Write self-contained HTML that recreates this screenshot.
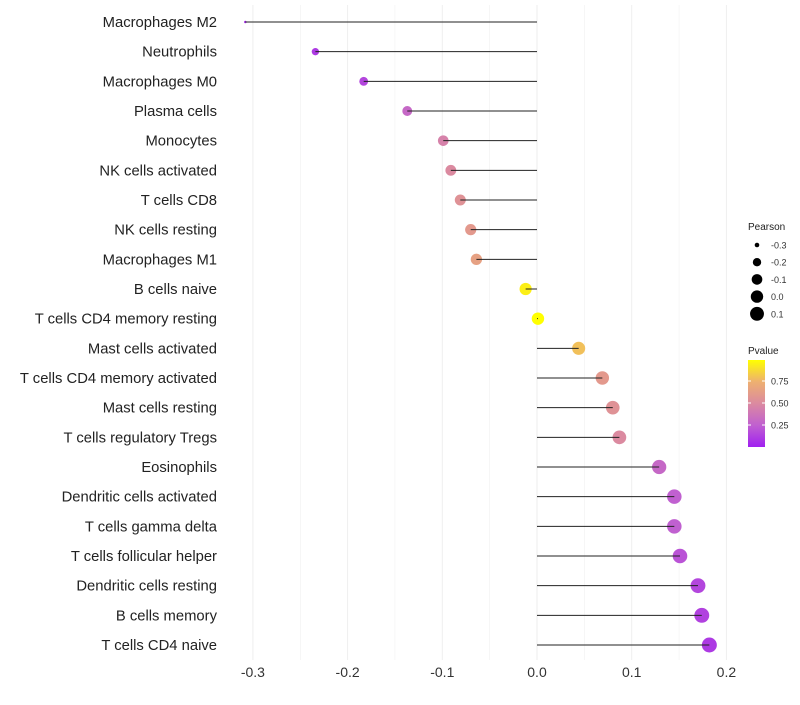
<!DOCTYPE html>
<html><head><meta charset="utf-8"><style>
body{margin:0;background:#fff;font-family:"Liberation Sans",sans-serif}
svg text{font-family:"Liberation Sans",sans-serif}
</style></head><body>
<svg id="chart" width="800" height="700"></svg>
<script>
const categories=["Macrophages M2","Neutrophils","Macrophages M0","Plasma cells","Monocytes","NK cells activated","T cells CD8","NK cells resting","Macrophages M1","B cells naive","T cells CD4 memory resting","Mast cells activated","T cells CD4 memory activated","Mast cells resting","T cells regulatory  Tregs ","Eosinophils","Dendritic cells activated","T cells gamma delta","T cells follicular helper","Dendritic cells resting","B cells memory","T cells CD4 naive"];
const pearson=[-0.308,-0.234,-0.183,-0.137,-0.099,-0.091,-0.081,-0.070,-0.064,-0.012,0.001,0.044,0.069,0.080,0.087,0.129,0.145,0.145,0.151,0.170,0.174,0.182];
const pvalue=[0.05,0.1,0.15,0.3,0.45,0.5,0.55,0.6,0.65,0.95,1.0,0.8,0.6,0.55,0.5,0.3,0.25,0.25,0.2,0.15,0.13,0.1];
const xTicks=[-0.3,-0.2,-0.1,0.0,0.1,0.2];
const xTickLabels=["-0.3","-0.2","-0.1","0.0","0.1","0.2"];
const sizeLegend=[-0.3,-0.2,-0.1,0.0,0.1];
const colorTicks=[0.25,0.5,0.75];

const NS="http://www.w3.org/2000/svg";
const svg=document.getElementById('chart');
function mk(t,a,p){const e=document.createElementNS(NS,t);for(const k in a)e.setAttribute(k,a[k]);(p||svg).appendChild(e);return e;}
const x=v=>537+v*947;
const y=i=>22+i*(623/21);
const vmin=Math.min(...pearson), vmax=Math.max(...pearson);
const r=v=>{const t=Math.max(0,Math.min(1,(v-vmin)/(vmax-vmin)));return 7.5*(1+5*Math.sqrt(t))/6;};
const stops=[[0,[160,32,240]],[0.25,[192,96,208]],[0.5,[219,138,160]],[0.75,[238,176,112]],[1,[255,255,0]]];
function col(p){for(let i=0;i<stops.length-1;i++){const a=stops[i],b=stops[i+1];if(p<=b[0]){const t=(p-a[0])/(b[0]-a[0]);return 'rgb('+a[1].map((c,j)=>Math.round(c+(b[1][j]-c)*t)).join(',')+')';}}return 'rgb(255,255,0)';}

for(let v=-0.3;v<=0.2001;v+=0.05){
 const g=mk('line',{x1:x(v),x2:x(v),y1:5,y2:660,stroke:'#eeeeee','stroke-width':Math.abs(Math.round(v*100)%10)<1?1:0.5});
 
 
}
xTicks.forEach((v,i)=>{
 const t=mk('text',{x:x(v),y:677,'text-anchor':'middle','font-size':14,fill:'#333'});t.textContent=xTickLabels[i];
 
 
});
categories.forEach((c,i)=>{
 const t=mk('text',{x:217,y:y(i)+5,'text-anchor':'end','font-size':14.8,fill:'#222','xml:space':'preserve'});t.textContent=c;
 
 
 const d=mk('circle',{cx:x(pearson[i]),cy:y(i),r:r(pearson[i]),fill:col(pvalue[i])});
 
 
 const l=mk('line',{x1:x(0),x2:x(pearson[i]),y1:y(i),y2:y(i),stroke:'#222','stroke-width':1});
 
 
});
let t=mk('text',{x:748,y:230,'font-size':10,fill:'#222'});t.textContent='Pearson';


sizeLegend.forEach((v,i)=>{
 const cy=245+i*17.2;
 const c=mk('circle',{cx:757,cy:cy,r:Math.max(2.3,r(v)),fill:'#000'});
 
 
 const tt=mk('text',{x:771,y:cy+3.5,'font-size':9,fill:'#333'});tt.textContent=v.toFixed(1);
 
 
});
t=mk('text',{x:748,y:354,'font-size':10,fill:'#222'});t.textContent='Pvalue';


const defs=mk('defs',{});
const lg=mk('linearGradient',{id:'pg',x1:0,y1:1,x2:0,y2:0},defs);
stops.forEach(s=>mk('stop',{offset:s[0],'stop-color':'rgb('+s[1].join(',')+')'},lg));
const cb=mk('rect',{x:748,y:360,width:17,height:87,fill:'url(#pg)'});


colorTicks.forEach(v=>{
 const cy=447-v*88;
 mk('line',{x1:748,x2:751,y1:cy,y2:cy,stroke:'#fff'});
 mk('line',{x1:762,x2:765,y1:cy,y2:cy,stroke:'#fff'});
 const tt=mk('text',{x:771,y:cy+3.5,'font-size':9,fill:'#333'});tt.textContent=v.toFixed(2);
 
 
});
</script>
</body></html>
